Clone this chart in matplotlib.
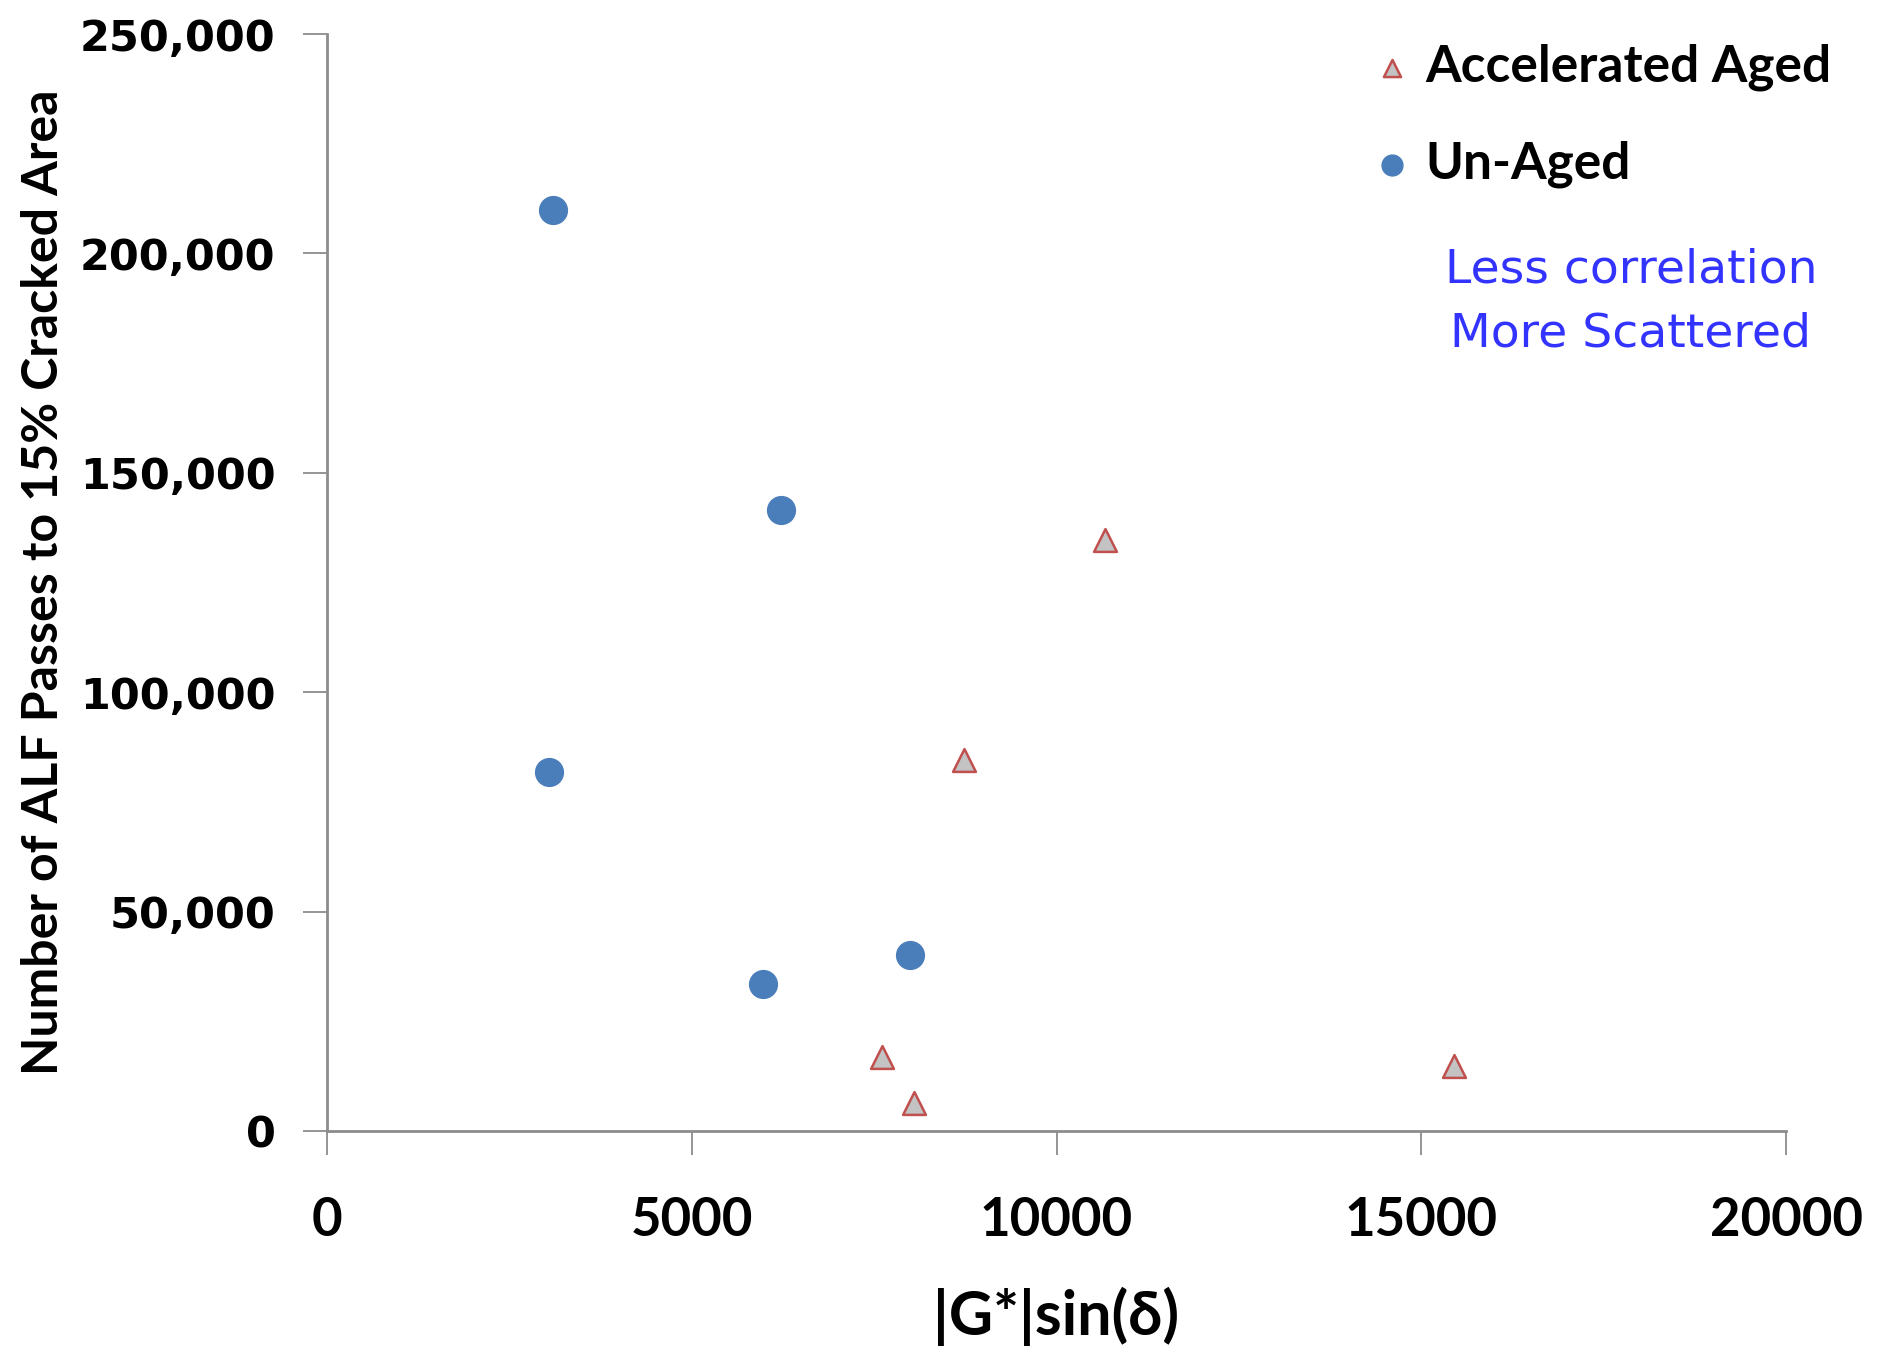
import matplotlib.pyplot as plt
from matplotlib.ticker import FuncFormatter

# Un-Aged binders
unaged_x = [3100, 6220, 3040, 5970, 7990]
unaged_y = [210000, 141500, 81900, 33500, 40100]

# Accelerated aged binders
aged_x = [10660, 8730, 7610, 8040, 15450]
aged_y = [134600, 84600, 16800, 6300, 14800]

x_ticks = [0, 5000, 10000, 15000, 20000]
y_ticks = [0, 50000, 100000, 150000, 200000, 250000]

narrow = ['Lato', 'DejaVu Sans']

fig = plt.figure(figsize=(18.87, 13.46), dpi=100)
ax = fig.add_axes([327 / 1887, 1 - 1131 / 1346, (1786 - 327) / 1887, (1131 - 34) / 1346])

ax.scatter(aged_x, aged_y, marker='^', s=270, facecolor='#c3c3c3',
           edgecolor='#c0504d', linewidths=1.8, label='Accelerated Aged', zorder=3)
ax.scatter(unaged_x, unaged_y, marker='o', s=400, facecolor='#4a7ebb',
           edgecolor='#4a7ebb', linewidths=1, label='Un-Aged', zorder=3)

ax.set_xlim(0, 20000)
ax.set_ylim(0, 250000)
ax.set_xticks(x_ticks)
ax.set_yticks(y_ticks)
ax.yaxis.set_major_formatter(FuncFormatter(lambda v, p: '{:,.0f}'.format(v)))

for s in ['top', 'right']:
    ax.spines[s].set_visible(False)
for s in ['left', 'bottom']:
    ax.spines[s].set_color('#8c8c8c')
    ax.spines[s].set_linewidth(2)
ax.tick_params(axis='both', direction='out', length=17, width=1.3, color='#8c8c8c')
ax.tick_params(axis='y', pad=20)
ax.tick_params(axis='x', pad=30)

for lbl in ax.get_yticklabels():
    lbl.set_fontfamily('DejaVu Sans')
    lbl.set_fontweight('bold')
    lbl.set_fontsize(31)
for lbl in ax.get_xticklabels():
    lbl.set_fontfamily(narrow)
    lbl.set_fontweight('bold')
    lbl.set_fontsize(38)

ax.set_ylabel('Number of ALF Passes to 15% Cracked Area', family=narrow,
              fontweight='bold', fontsize=36, labelpad=10)
ax.set_xlabel('|G*|sin(δ)', family=narrow, fontweight='bold', fontsize=44, labelpad=30)

leg = ax.legend(loc='upper left', bbox_to_anchor=(1328 / 1887, 1 - 8 / 1346),
                bbox_transform=fig.transFigure, frameon=False, borderpad=0.2,
                prop={'family': narrow, 'weight': 'bold', 'size': 37},
                handletextpad=0.1, labelspacing=0.95, markerscale=0.75, handlelength=1.1)

fig.text(1631 / 1887, 1 - 270 / 1346, 'Less correlation', color='#3333ff',
         fontsize=34, ha='center', va='center')
fig.text(1631 / 1887, 1 - 334 / 1346, 'More Scattered', color='#3333ff',
         fontsize=34, ha='center', va='center')

fig.savefig('out.png', dpi=100)
